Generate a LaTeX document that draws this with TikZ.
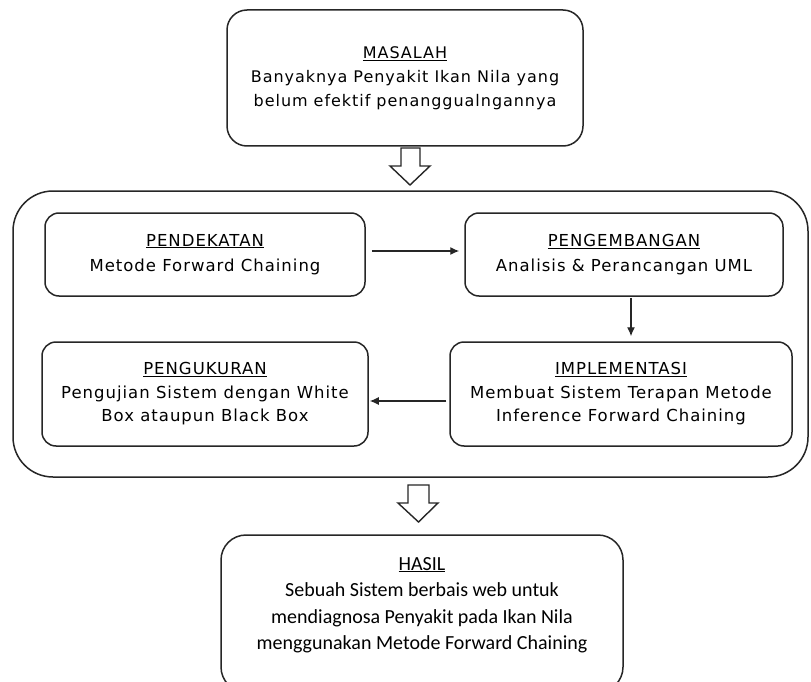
\documentclass[tikz,border=0pt]{standalone}
\usepackage{fontspec}
\setmainfont{DejaVu Sans}
\newfontfamily\boxfont[LetterSpace=6]{DejaVu Sans}
\newfontfamily\hasilfont{Carlito}
\usetikzlibrary{arrows.meta}
\begin{document}
\begin{tikzpicture}[x=1pt,y=-1pt,
  ln/.style={draw=black!85, line width=1.5pt},
  box/.style={ln, fill=white, rounded corners=14pt, align=center, inner sep=0pt,
              font=\boxfont\fontsize{16.5}{25}\selectfont},
  conn/.style={ln, line width=1.3pt, -{Latex[length=9pt,width=8pt]}},
  blockarrow/.style={ln, line width=1.4pt, fill=white, line join=miter}
]
\useasboundingbox (0,0) rectangle (811,682);
\fill[white] (0,0) rectangle (811,682);

% outer frame
\node[ln, rounded corners=40pt, minimum width=795pt, minimum height=286pt, inner sep=0pt] (outer) at (410.5,334) {};

% top problem box
\node[box, rounded corners=20pt, minimum width=356pt, minimum height=136pt,
      font=\boxfont\fontsize{16}{24}\selectfont] (masalah) at (405,78)
  {\underline{MASALAH}\\Banyaknya Penyakit Ikan Nila yang\\belum efektif penanggualngannya};

% inner boxes
\node[box, minimum width=320pt, minimum height=83pt] (pend) at (205,254.5)
  {\underline{PENDEKATAN}\\Metode Forward Chaining};
\node[box, minimum width=318pt, minimum height=83pt] (peng) at (624,254.5)
  {\underline{PENGEMBANGAN}\\Analisis \& Perancangan UML};
\node[box, minimum width=326pt, minimum height=104pt, font=\boxfont\fontsize{16.5}{23.5}\selectfont] (ukur) at (205,394)
  {\underline{PENGUKURAN}\\Pengujian Sistem dengan White\\Box ataupun Black Box};
\node[box, minimum width=342pt, minimum height=104pt, font=\boxfont\fontsize{16.5}{23.5}\selectfont] (impl) at (621,394)
  {\underline{IMPLEMENTASI}\\Membuat Sistem Terapan Metode\\Inference Forward Chaining};

% result box
\node[ln, fill=white, rounded corners=25pt, minimum width=402pt, minimum height=157pt, inner sep=0pt] (hasil) at (422,613.5) {};
\node[align=center, inner sep=0pt, font=\hasilfont\fontsize{20}{26.5}\selectfont] (hasiltext) at (422,605)
  {\underline{HASIL}\\Sebuah Sistem berbais web untuk\\mendiagnosa Penyakit pada Ikan Nila\\menggunakan Metode Forward Chaining};

% connectors
\draw[conn, shorten <=6pt, shorten >=5pt] ([yshift=3.5pt]pend.east) -- ([yshift=3.5pt]peng.west);
\draw[conn, shorten <=1pt, shorten >=5pt] ([xshift=7pt]peng.south) -- ([xshift=7pt]peng.south |- impl.north);
\draw[conn, shorten <=3pt, shorten >=1pt] ([yshift=-7pt]impl.west) -- ([yshift=-7pt]ukur.east);

% block arrows
\draw[blockarrow] (401,148) -- (420,148) -- (420,166) -- (430,166) -- (410,185) -- (390,166) -- (401,166) -- cycle;
\draw[blockarrow] (408,485) -- (429,485) -- (429,503) -- (438,503) -- (418.5,522) -- (398,503) -- (408,503) -- cycle;
\end{tikzpicture}
\end{document}
